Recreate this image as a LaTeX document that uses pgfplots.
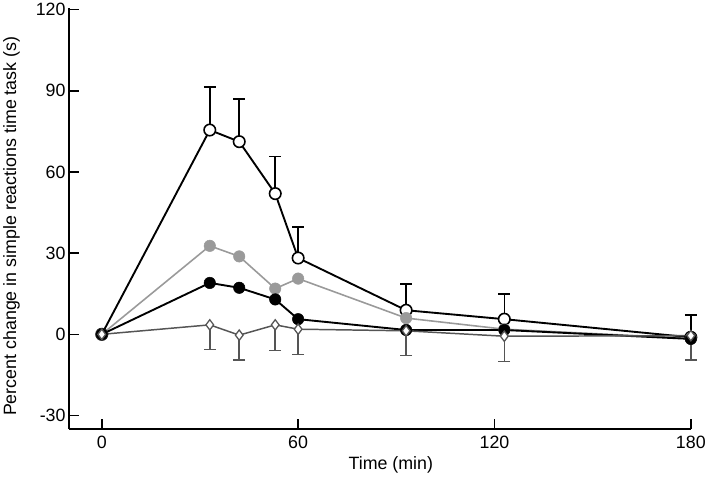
\documentclass[border=0pt]{standalone}
\usepackage{pgfplots}
\pgfplotsset{compat=1.18}
\usepackage{fontspec}
\setmainfont{Liberation Sans}
\definecolor{lgray}{HTML}{9A9A9A}
\definecolor{dgray}{HTML}{555555}
\begin{document}
\begin{tikzpicture}
\begin{axis}[
  scale only axis, width=628pt, height=425pt,
  xmin=-10, xmax=180, ymin=-35, ymax=120.5,
  axis x line*=bottom, axis y line*=left,
  axis line style={line width=1.7pt, black},
  xtick={0,60,120,180}, xticklabels={0,60,120,180},
  ytick={-30,0,30,60,90,120}, yticklabels={-30,0,30,60,90,120},
  tick align=inside, major tick length=10pt,
  tick style={line width=1.5pt, black},
  tick label style={font=\fontsize{18}{21}\selectfont},
  label style={font=\fontsize{18}{21}\selectfont},
  xticklabel style={yshift=-4pt},
  xlabel={Time (min)},
  ylabel={Percent change in simple reactions time task (s)},
  xlabel style={at={(axis description cs:0.5175,-0.0847)}, anchor=center},
  ylabel style={at={(axis description cs:-0.0924,0.482)}, anchor=center},
  clip=false,
]
% open circles
\addplot[black, line width=1.9pt, mark=*, mark size=5.8pt,
  mark options={line width=1.6pt, fill=white, draw=black},
  error bars/.cd, y dir=plus, y explicit,
  error bar style={line width=1.6pt, black},
  error mark options={rotate=90, mark size=6pt, line width=1.6pt, black}]
coordinates {
(0,0) +- (0,0)
(33,75.5) +- (0,15.8)
(42,71.2) +- (0,15.8)
(53,52.0) +- (0,13.7)
(60,28.2) +- (0,11.5)
(93,8.9) +- (0,9.8)
(123,5.6) +- (0,9.4)
(180,-1.1) +- (0,8.2)
};
% gray filled
\addplot[lgray, line width=1.6pt, mark=*, mark size=5.8pt,
  mark options={fill=lgray, draw=lgray, line width=0.5pt}]
coordinates {
(0,0) (33,32.7) (42,28.8) (53,16.9) (60,20.6) (93,6.0) (123,1.9) (180,-1.5)
};
% black filled
\addplot[black, line width=1.9pt, mark=*, mark size=5.8pt,
  mark options={fill=black, draw=black, line width=0.5pt}]
coordinates {
(0,0) (33,19.0) (42,17.2) (53,12.9) (60,5.6) (93,1.6) (123,1.6) (180,-1.7)
};
% diamonds
\addplot[dgray, line width=1.5pt, mark=diamond*, mark size=5.2pt,
  mark options={fill=white, draw=dgray, line width=1.3pt},
  error bars/.cd, y dir=minus, y explicit,
  error bar style={line width=1.6pt, dgray},
  error mark options={rotate=90, mark size=6pt, line width=1.6pt, dgray}]
coordinates {
(0,0) +- (0,0)
(33,3.5) +- (0,9.1)
(42,-0.3) +- (0,9.1)
(53,3.5) +- (0,9.5)
(60,1.9) +- (0,9.4)
(93,1.3) +- (0,9.2)
(123,-0.7) +- (0,9.3)
(180,-0.5) +- (0,8.9)
};
\end{axis}
\path (current axis.south west) ++(-67pt,-54pt) rectangle ++(709pt,485pt);
\end{tikzpicture}
\end{document}
